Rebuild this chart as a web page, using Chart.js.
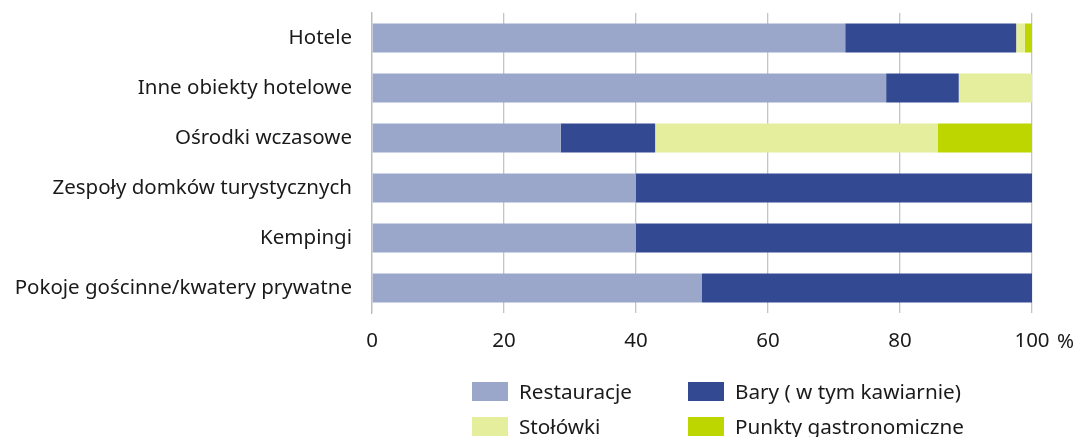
<!DOCTYPE html>
<html>
<head>
<meta charset="utf-8">
<script src="https://cdn.jsdelivr.net/npm/chart.js@4"></script>
<style>
  html,body{margin:0;padding:0;background:#fff;}
  #wrap{position:relative;width:1077px;height:437px;overflow:hidden;font-family:"Noto Sans",sans-serif;color:#1a1a1a;}
  #chart{position:absolute;left:0;top:0;}
  .leg{position:absolute;display:flex;align-items:center;font-size:20.7px;white-space:nowrap;}
  .leg i{display:inline-block;width:36px;height:19px;margin-right:11px;}
</style>
</head>
<body>
<div id="wrap">
  <canvas id="chart" width="1077" height="437"></canvas>
</div>
<script>
const categories = ["Hotele","Inne obiekty hotelowe","Ośrodki wczasowe","Zespoły domków turystycznych","Kempingi","Pokoje gościnne/kwatery prywatne"];
const restauracje = [71.7, 77.9, 28.6, 40, 40, 50];
const bary        = [25.9, 11.0, 14.3, 60, 60, 50];
const stolowki    = [1.3, 11.1, 42.8, 0, 0, 0];
const punkty      = [1.1, 0, 14.3, 0, 0, 0];
const seriesNames = ["Restauracje","Bary ( w tym kawiarnie)","Stołówki","Punkty gastronomiczne"];
const seriesColors = ["#9AA7CA","#334A93","#E5EE9C","#BED600"];
const xTicks = [0,20,40,60,80,100];

const font = "'Noto Sans', sans-serif";
const fs = 20.5;
const seriesData = [restauracje, bary, stolowki, punkty];

// "%" after the last tick label
const percentSign = {
  id:"percentSign",
  afterDraw(chart){
    const x = chart.scales.x;
    const ctx = chart.ctx;
    ctx.save();
    ctx.font = fs + "px " + font;
    ctx.fillStyle = "#1a1a1a";
    ctx.textBaseline = "middle";
    ctx.textAlign = "left";
    ctx.fillText("%", x.getPixelForValue(100) + 25, 342);
    ctx.restore();
  }
};

new Chart(document.getElementById("chart"), {
  type:"bar",
  data:{
    labels: categories,
    datasets: seriesData.map((d,i)=>({
      label: seriesNames[i],
      data: d,
      backgroundColor: seriesColors[i],
      borderWidth: 0,
      barPercentage: 0.58,
      categoryPercentage: 1
    }))
  },
  options:{
    indexAxis:"y",
    responsive:false,
    animation:false,
    layout:{ padding:{ top:13, right:45, bottom:83, left:0 } },
    plugins:{ legend:{display:false}, tooltip:{enabled:false} },
    scales:{
      x:{
        stacked:true, min:0, max:100,
        afterBuildTicks(s){ s.ticks = xTicks.map(v=>({value:v})); },
        afterFit(s){ s.height = 41; s.paddingLeft = 0; s.paddingRight = 0; },
        grid:{ color:"#C4C4C4", lineWidth:1.3, drawTicks:false },
        border:{ display:false },
        ticks:{ color:"#1a1a1a", font:{family:font, size:fs}, padding:16 }
      },
      y:{
        stacked:true,
        afterFit(s){ s.width = 372; s.paddingTop = 0; s.paddingBottom = 0; },
        grid:{ display:false, drawTicks:false },
        border:{ display:true, color:"#BDBDBD", width:1.3 },
        ticks:{ color:"#1a1a1a", font:{family:font, size:fs}, padding:20 }
      }
    }
  },
  plugins:[percentSign]
});

// legend, 2 x 2
const wrap = document.getElementById("wrap");
const legPos = [[472,381],[688,381],[472,416],[688,416]];
seriesNames.forEach((n,i)=>{
  const d = document.createElement("div");
  d.className = "leg";
  d.style.left = legPos[i][0] + "px";
  d.style.top = (legPos[i][1] - 4) + "px";
  d.innerHTML = `<i style="background:${seriesColors[i]}"></i><span>${n}</span>`;
  wrap.appendChild(d);
});
</script>
</body>
</html>
